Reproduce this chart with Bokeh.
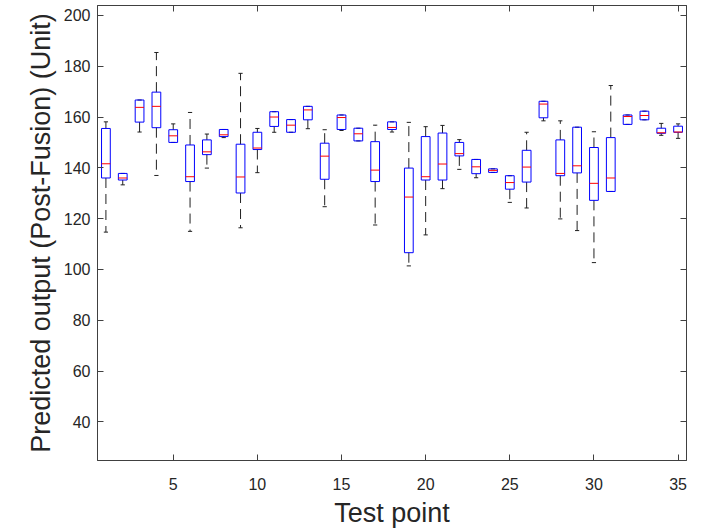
from bokeh.plotting import figure
from bokeh.models import (ColumnDataSource, Range1d, LinearAxis, FixedTicker,
                          CustomLabelingPolicy)
from bokeh.transform import dodge
from bokeh.embed import file_html
from bokeh.resources import INLINE

# Data
test_points = list(range(1, 36))
lower = [114.7, 133.3, 154.1, 137.0, 150.0, 115.0, 139.9, 151.9, 116.4, 138.1,
         154.0, 154.0, 155.4, 124.7, 154.7, 150.6, 117.5, 154.1, 101.4, 113.6,
         131.8, 139.4, 136.1, 138.2, 126.4, 124.2, 158.5, 119.9, 115.3, 102.7,
         130.7, 157.1, 158.9, 152.8, 151.6]
q1 = [136.0, 135.2, 158.0, 155.8, 150.0, 134.6, 145.2, 152.3, 130.1, 147.2,
      156.3, 154.0, 158.9, 135.5, 155.1, 150.6, 134.6, 155.1, 106.6, 135.2,
      135.2, 144.7, 137.7, 138.2, 131.6, 134.4, 159.7, 136.9, 138.0, 127.2,
      130.7, 157.1, 158.9, 153.6, 154.0]
median = [141.6, 136.0, 163.8, 164.2, 152.6, 136.5, 146.3, 153.0, 136.4, 147.8,
          160.0, 156.8, 162.8, 144.6, 159.8, 153.4, 139.1, 155.9, 128.5, 136.5,
          141.5, 145.6, 140.4, 139.0, 134.2, 140.3, 165.1, 137.8, 140.8, 133.9,
          136.0, 160.2, 160.6, 153.8, 154.1]
q3 = [155.5, 137.8, 166.7, 169.8, 155.0, 149.0, 151.0, 155.1, 149.3, 154.0,
      162.1, 159.0, 164.2, 149.7, 160.8, 155.6, 150.3, 158.1, 139.9, 152.3,
      153.7, 150.0, 143.3, 139.6, 136.9, 146.9, 166.2, 151.0, 156.0, 148.0,
      151.9, 160.8, 162.3, 155.6, 156.4]
upper = [158.1, 137.8, 166.7, 185.4, 157.3, 161.8, 153.3, 155.1, 177.2, 155.5,
         162.1, 159.0, 164.2, 155.0, 160.8, 155.6, 156.8, 158.1, 157.9, 156.2,
         156.7, 151.1, 143.3, 139.6, 136.9, 154.0, 166.2, 158.5, 156.0, 154.2,
         172.4, 160.8, 162.3, 157.5, 157.3]
x_ticks = [5, 10, 15, 20, 25, 30, 35]
y_ticks = [40, 60, 80, 100, 120, 140, 160, 180, 200]

src = ColumnDataSource(dict(x=test_points, lower=lower, q1=q1, med=median,
                            q3=q3, upper=upper))

FONT = "Liberation Sans"
TXT = "#262626"
AX = "#404040"

p = figure(width=700, height=530, output_backend="svg", toolbar_location=None,
           x_range=Range1d(0.5, 35.5), y_range=Range1d(24.8, 203.9),
           min_border_left=97, min_border_right=14, min_border_top=5,
           min_border_bottom=66, x_axis_label="Test point",
           y_axis_label="Predicted output (Post-Fusion) (Unit)")
p.background_fill_color = "white"
p.border_fill_color = "white"
p.outline_line_color = AX
p.grid.visible = False

# whiskers (dashed)
p.segment(x0="x", y0="q3", x1="x", y1="upper", source=src, line_color="#202020",
          line_width=1, line_dash="10 6")
p.segment(x0="x", y0="q1", x1="x", y1="lower", source=src, line_color="#202020",
          line_width=1, line_dash="10 6")
# caps
p.segment(x0=dodge("x", -0.125), y0="upper", x1=dodge("x", 0.125), y1="upper",
          source=src, line_color="#202020", line_width=1)
p.segment(x0=dodge("x", -0.125), y0="lower", x1=dodge("x", 0.125), y1="lower",
          source=src, line_color="#202020", line_width=1)
# boxes
p.vbar(x="x", width=0.52, bottom="q1", top="q3", source=src, fill_color=None,
       line_color="#0000FF", line_width=1)
# medians
p.segment(x0=dodge("x", -0.26), y0="med", x1=dodge("x", 0.26), y1="med",
          source=src, line_color="#FF0000", line_width=1)

def style(ax, ticks, labels=True):
    ax.ticker = FixedTicker(ticks=ticks)
    ax.major_tick_in = 6
    ax.major_tick_out = 0
    ax.minor_tick_line_color = None
    ax.axis_line_color = AX
    ax.major_tick_line_color = AX
    ax.major_label_text_font = FONT
    ax.major_label_text_color = TXT
    if labels:
        ax.major_label_text_font_size = "16px"
        ax.major_label_standoff = 7
        ax.axis_label_text_font = FONT
        ax.axis_label_text_font_size = "27px"
        ax.axis_label_text_font_style = "normal"
        ax.axis_label_text_color = TXT
        ax.axis_label_standoff = 5
    else:
        ax.major_label_text_font_size = "0px"
        ax.major_label_standoff = 0
        ax.major_label_policy = CustomLabelingPolicy(
            code="for (const i of Array.from(indices)) indices.unset(i); return indices")

style(p.xaxis[0], x_ticks)
style(p.yaxis[0], y_ticks)
p.xaxis[0].major_label_standoff = 17
p.xaxis[0].axis_label_standoff = 5

top_ax = LinearAxis()
style(top_ax, x_ticks, labels=False)
right_ax = LinearAxis()
style(right_ax, y_ticks, labels=False)
p.add_layout(top_ax, "above")
p.add_layout(right_ax, "right")

open("out.html", "w").write(file_html(p, INLINE))
